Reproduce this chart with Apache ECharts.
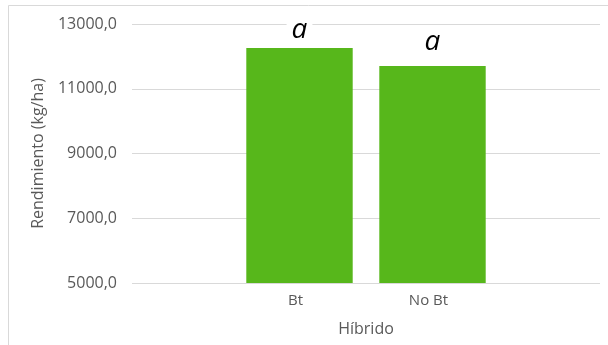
<!DOCTYPE html>
<html>
<head>
<meta charset="utf-8">
<script src="https://cdn.jsdelivr.net/npm/echarts@6/dist/echarts.min.js"></script>
<style>
  html, body { margin: 0; padding: 0; background: #ffffff; }
  #chart { width: 608px; height: 345px; }
</style>
</head>
<body>
<div id="chart"></div>
<script>
// Rendimiento por tipo de híbrido
const hibridos = ['Bt', 'No Bt'];
const rendimiento = [12260, 11700];
const letras = ['a', 'a'];
const labelDistancia = [3, 9];
const ejeY = { min: 5000, max: 13000, intervalo: 2000 };

const FONT = 'Open Sans';
const GRIS = '#595959';

const chart = echarts.init(document.getElementById('chart'));

chart.setOption({
  animation: false,
  backgroundColor: '#ffffff',
  graphic: [{
    type: 'rect',
    shape: { x: 8.5, y: 5.5, width: 620, height: 360 },
    style: { fill: 'none', stroke: '#d9d9d9', lineWidth: 1 },
    z: -1
  }],
  grid: [
    { left: 132, right: 8, top: 24, bottom: 62 },
    { left: 233, right: 109, top: 24, bottom: 62 }
  ],
  xAxis: [
    {
      gridIndex: 0, type: 'category', data: [''],
      show: true,
      axisLine: { show: false }, axisTick: { show: false }, axisLabel: { show: false },
      name: 'Híbrido', nameLocation: 'middle', nameGap: 38,
      nameTextStyle: { fontFamily: FONT, fontSize: 16, color: GRIS }
    },
    {
      gridIndex: 1, type: 'category', data: hibridos,
      axisLine: { show: false }, axisTick: { show: false },
      axisLabel: { fontFamily: FONT, fontSize: 15, color: GRIS, margin: 10, padding: [0, 8, 0, 0] }
    }
  ],
  yAxis: [
    {
      gridIndex: 0, type: 'value',
      min: ejeY.min, max: ejeY.max, interval: ejeY.intervalo,
      axisLine: { show: false }, axisTick: { show: false },
      splitLine: { lineStyle: { color: '#d9d9d9', width: 1 } },
      axisLabel: {
        fontFamily: FONT, fontSize: 16, color: GRIS, margin: 15,
        formatter: v => v.toFixed(1).replace('.', ',')
      },
      name: 'Rendimiento (kg/ha)', nameLocation: 'middle', nameGap: 86, nameRotate: 90,
      nameTextStyle: { fontFamily: FONT, fontSize: 16, color: GRIS }
    },
    {
      gridIndex: 1, type: 'value',
      min: ejeY.min, max: ejeY.max, interval: ejeY.intervalo,
      show: false, splitLine: { show: false }
    }
  ],
  series: [{
    type: 'bar',
    xAxisIndex: 1, yAxisIndex: 1,
    barCategoryGap: '20%',
    itemStyle: { color: '#57b71b' },
    data: rendimiento.map((v, i) => ({
      value: v,
      label: {
        show: true, position: 'top', distance: labelDistancia[i],
        formatter: letras[i],
        fontFamily: FONT, fontStyle: 'italic', fontSize: 28, color: '#000000',
        backgroundColor: '#ffffff', padding: [0, 5, 0, 5], lineHeight: 30
      }
    }))
  }]
});
</script>
</body>
</html>
